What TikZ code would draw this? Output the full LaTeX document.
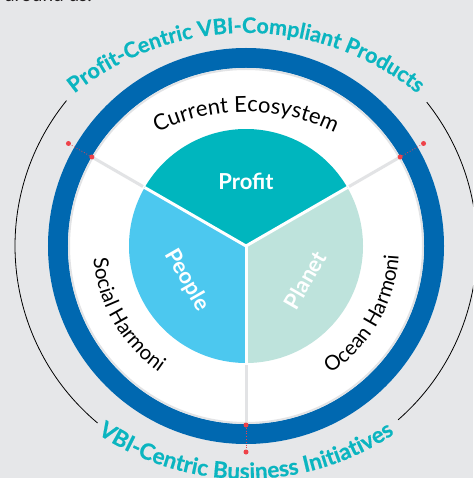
\documentclass[tikz,border=0pt]{standalone}
\usepackage{fontspec}
\setmainfont{Lato}
\newfontfamily\titlefam{Lato}[BoldFeatures={FakeBold=0.5}]
\usetikzlibrary{decorations.text}
\definecolor{bgc}{HTML}{E6E7E9}
\definecolor{ringblue}{HTML}{0068B0}
\definecolor{profitc}{HTML}{00B6BE}
\definecolor{peoplec}{HTML}{4CC8EF}
\definecolor{planetc}{HTML}{BEE3DC}
\definecolor{titlec}{HTML}{0BB5C0}
\definecolor{dotred}{HTML}{EE4249}
\definecolor{divgray}{HTML}{E2E3E5}
\definecolor{textdark}{HTML}{231F20}
\newcommand{\titlefontA}{\titlefam\bfseries\fontsize{21.5}{26}\selectfont}
\newcommand{\titlefontB}{\titlefam\bfseries\fontsize{22.5}{26}\selectfont}
\newcommand{\ringfontA}{\fontsize{22}{26}\selectfont}
\newcommand{\ringfontB}{\fontsize{20.5}{24}\selectfont}
\tikzset{
  reddot/.style={circle, fill=dotred, inner sep=0pt, minimum size=5pt},
  redlink/.style={dotred, dotted, line width=0.8pt},
  divider/.style={divgray, line width=3pt},
  sep/.style={white, line width=3pt},
  outerarc/.style={black, line width=0.8pt},
  pielabel/.style={text=white, font=\bfseries\fontsize{22}{26}\selectfont, inner sep=0pt},
}
\begin{document}
\begin{tikzpicture}
\useasboundingbox (-246pt,-232pt) rectangle (227pt,246pt);
\clip (-246pt,-232pt) rectangle (227pt,246pt);
\fill[bgc] (-246pt,-232pt) rectangle (227pt,246pt);
\node[anchor=base west, text=textdark, font=\fontsize{19}{23}\selectfont, inner sep=0pt] (intro) at (-241pt,244pt) {around us.};
% blue ring and white disk
\fill[ringblue] (0,0) circle (198pt);
\fill[white] (0,0) circle (178pt);
\draw[divgray, line width=2pt] (0,0) circle (177pt);
% pie
\fill[profitc] (0,0) -- (30:117pt) arc[start angle=30, end angle=150, radius=117pt] -- cycle;
\fill[peoplec] (0,0) -- (150:117pt) arc[start angle=150, end angle=270, radius=117pt] -- cycle;
\fill[planetc] (0,0) -- (270:117pt) arc[start angle=270, end angle=390, radius=117pt] -- cycle;
\coordinate (c) at (0,0);
\coordinate (e1) at (30:117pt);
\coordinate (e2) at (150:117pt);
\coordinate (e3) at (270:117pt);
\draw[sep] (c) -- (e1);
\draw[sep] (c) -- (e2);
\draw[sep] (c) -- (e3);
% dividers in white ring
\coordinate (g1a) at (30:119pt);  \coordinate (g1b) at (30:177pt);
\coordinate (g2a) at (150:119pt); \coordinate (g2b) at (150:177pt);
\coordinate (g3a) at (270:119pt); \coordinate (g3b) at (270:177pt);
\draw[divider] (g1a) -- (g1b);
\draw[divider] (g2a) -- (g2b);
\draw[divider] (g3a) -- (g3b);
% red dots
\node[reddot] (r1i) at (30:178pt) {};
\node[reddot] (r1o) at (30:205pt) {};
\node[reddot] (r2i) at (150:178pt) {};
\node[reddot] (r2o) at (150:205pt) {};
\node[reddot] (r3i) at (270:179pt) {};
\node[reddot] (r3o) at (270:206pt) {};
\draw[redlink] (r1i) -- (r1o);
\draw[redlink] (r2i) -- (r2o);
\draw[redlink] (r3i) -- (r3o);
% outer black arcs
\draw[outerarc] (141:231pt) arc[start angle=141, end angle=230, radius=231pt];
\draw[outerarc] (-48.8:231pt) arc[start angle=-48.8, end angle=38.5, radius=231pt];
% title texts along (flatter) arcs
\path[decorate, decoration={text along path, text align=center, text color=titlec,
  text={|\titlefontA|Profit-Centric VBI-Compliant Products}}]
  ([shift={(0pt,-60pt)}]150:273pt) arc[start angle=150, end angle=30, radius=273pt];
\path[decorate, decoration={text along path, text align=center, text color=titlec,
  text={|\titlefontB|VBI-Centric Business Initiatives}}]
  ([shift={(0pt,33pt)}]195:266pt) arc[start angle=195, end angle=345, radius=266pt];
% ring labels
\path[decorate, decoration={text along path, text align=center, text color=black,
  text={|\ringfontA|Current Ecosystem}}]
  ([shift={(0pt,-70pt)}]150:204pt) arc[start angle=150, end angle=30, radius=204pt];
\path[decorate, decoration={text along path, text align=center, text color=black,
  text={|\ringfontB|Social Harmoni}}]
  (130:153pt) arc[start angle=130, end angle=290, radius=153pt];
\path[decorate, decoration={text along path, text align=center, text color=black,
  text={|\ringfontB|Ocean Harmoni}}]
  (250:153pt) arc[start angle=250, end angle=410, radius=153pt];
% pie labels
\node[pielabel] (profit) at (90:65pt) {Profit};
\node[pielabel, rotate=-60] (people) at (210:68pt) {People};
\node[pielabel, rotate=60] (planet) at (330:68pt) {Planet};
\end{tikzpicture}
\end{document}
